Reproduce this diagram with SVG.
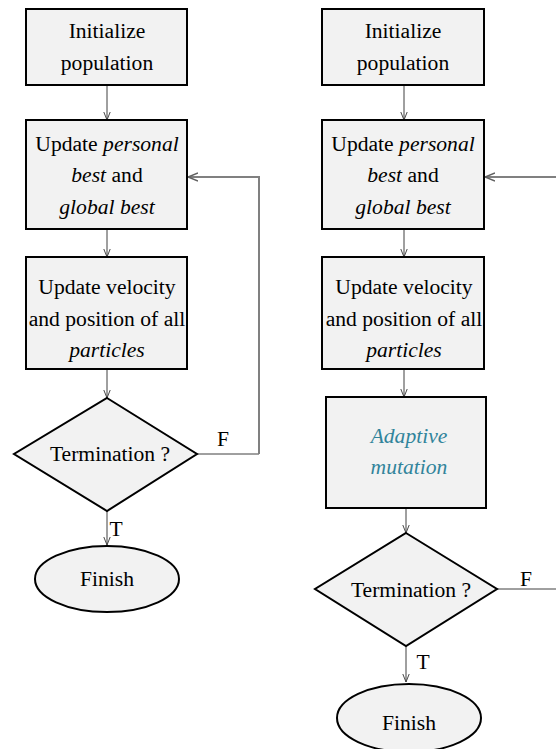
<svg xmlns="http://www.w3.org/2000/svg" width="556" height="749" viewBox="0 0 556 749">
<style>
.n{fill:#f2f2f2;stroke:#000;stroke-width:2}
.t{font-family:'Liberation Serif','Times New Roman',serif;font-size:21.6px;fill:#000;text-anchor:middle}
.i{font-style:italic}
.c{fill:none;stroke:#404040;stroke-width:1}
.g{fill:none;stroke:#808080;stroke-width:2}
.teal{fill:#31849b}
</style>
<defs>
<marker id="a" viewBox="0 0 10 10" refX="10" refY="5" markerWidth="8" markerHeight="8" markerUnits="userSpaceOnUse" orient="auto">
<path d="M0,1 L10,5 L0,9" fill="none" stroke="#404040" stroke-width="1.2"/>
</marker>
<marker id="ag" viewBox="0 0 10 10" refX="10" refY="5" markerWidth="10" markerHeight="10" markerUnits="userSpaceOnUse" orient="auto">
<path d="M0,1 L10,5 L0,9" fill="none" stroke="#606060" stroke-width="1.5"/>
</marker>
</defs>
<g id="connectors">
<line class="c" x1="107" y1="85" x2="107" y2="120" marker-end="url(#a)"/>
<line class="c" x1="107" y1="229" x2="107" y2="257" marker-end="url(#a)"/>
<line class="c" x1="107" y1="369" x2="107" y2="398" marker-end="url(#a)"/>
<line class="c" x1="107" y1="511" x2="107" y2="545" marker-end="url(#a)"/>
<polyline class="c" points="197,454 259,454"/>
<polyline class="g" points="259,454 259,177 188,177" marker-end="url(#ag)"/>
<line class="c" x1="404" y1="85" x2="404" y2="120" marker-end="url(#a)"/>
<line class="c" x1="404" y1="229" x2="404" y2="257" marker-end="url(#a)"/>
<line class="c" x1="404" y1="369" x2="404" y2="397" marker-end="url(#a)"/>
<line class="c" x1="406" y1="508" x2="406" y2="533" marker-end="url(#a)"/>
<line class="c" x1="406" y1="646" x2="406" y2="682" marker-end="url(#a)"/>
<line class="c" x1="497" y1="589" x2="556" y2="589"/>
<line class="g" x1="556" y1="177" x2="485" y2="177" marker-end="url(#ag)"/>
<text class="t" x="223" y="446">F</text>
<text class="t" x="116" y="536">T</text>
<text class="t" x="526" y="586">F</text>
<text class="t" x="423" y="669">T</text>
</g>
<g id="init1">
<rect class="n" x="26" y="9" width="161" height="76"/>
<text class="t" x="107" y="38">Initialize</text>
<text class="t" x="107" y="70">population</text>
</g>
<g id="best1">
<rect class="n" x="26" y="120" width="161" height="109"/>
<text class="t" x="107" y="151">Update <tspan class="i">personal</tspan></text>
<text class="t" x="107" y="182"><tspan class="i">best</tspan> and</text>
<text class="t i" x="107" y="214">global best</text>
</g>
<g id="vel1">
<rect class="n" x="26" y="257" width="161" height="112"/>
<text class="t" x="107" y="294">Update velocity</text>
<text class="t" x="107" y="326">and position of all</text>
<text class="t i" x="107" y="357">particles</text>
</g>
<g id="term1">
<polygon class="n" points="107,398 197,454 107,511 14,454"/>
<text class="t" x="110" y="461">Termination ?</text>
</g>
<g id="finish1">
<ellipse class="n" cx="107" cy="579" rx="72" ry="33"/>
<text class="t" x="107" y="586">Finish</text>
</g>
<g id="init2">
<rect class="n" x="322" y="9" width="162" height="76"/>
<text class="t" x="403" y="38">Initialize</text>
<text class="t" x="403" y="70">population</text>
</g>
<g id="best2">
<rect class="n" x="322" y="120" width="162" height="109"/>
<text class="t" x="403" y="151">Update <tspan class="i">personal</tspan></text>
<text class="t" x="403" y="182"><tspan class="i">best</tspan> and</text>
<text class="t i" x="403" y="214">global best</text>
</g>
<g id="vel2">
<rect class="n" x="322" y="257" width="162" height="112"/>
<text class="t" x="404" y="294">Update velocity</text>
<text class="t" x="404" y="326">and position of all</text>
<text class="t i" x="404" y="357">particles</text>
</g>
<g id="mut2">
<rect class="n" x="326" y="397" width="160" height="111"/>
<text class="t i teal" x="409" y="443">Adaptive</text>
<text class="t i teal" x="409" y="474">mutation</text>
</g>
<g id="term2">
<polygon class="n" points="406,533 497,589 406,646 315,589"/>
<text class="t" x="411" y="597">Termination ?</text>
</g>
<g id="finish2">
<ellipse class="n" cx="409" cy="718" rx="72" ry="34"/>
<text class="t" x="409" y="730">Finish</text>
</g>
</svg>
